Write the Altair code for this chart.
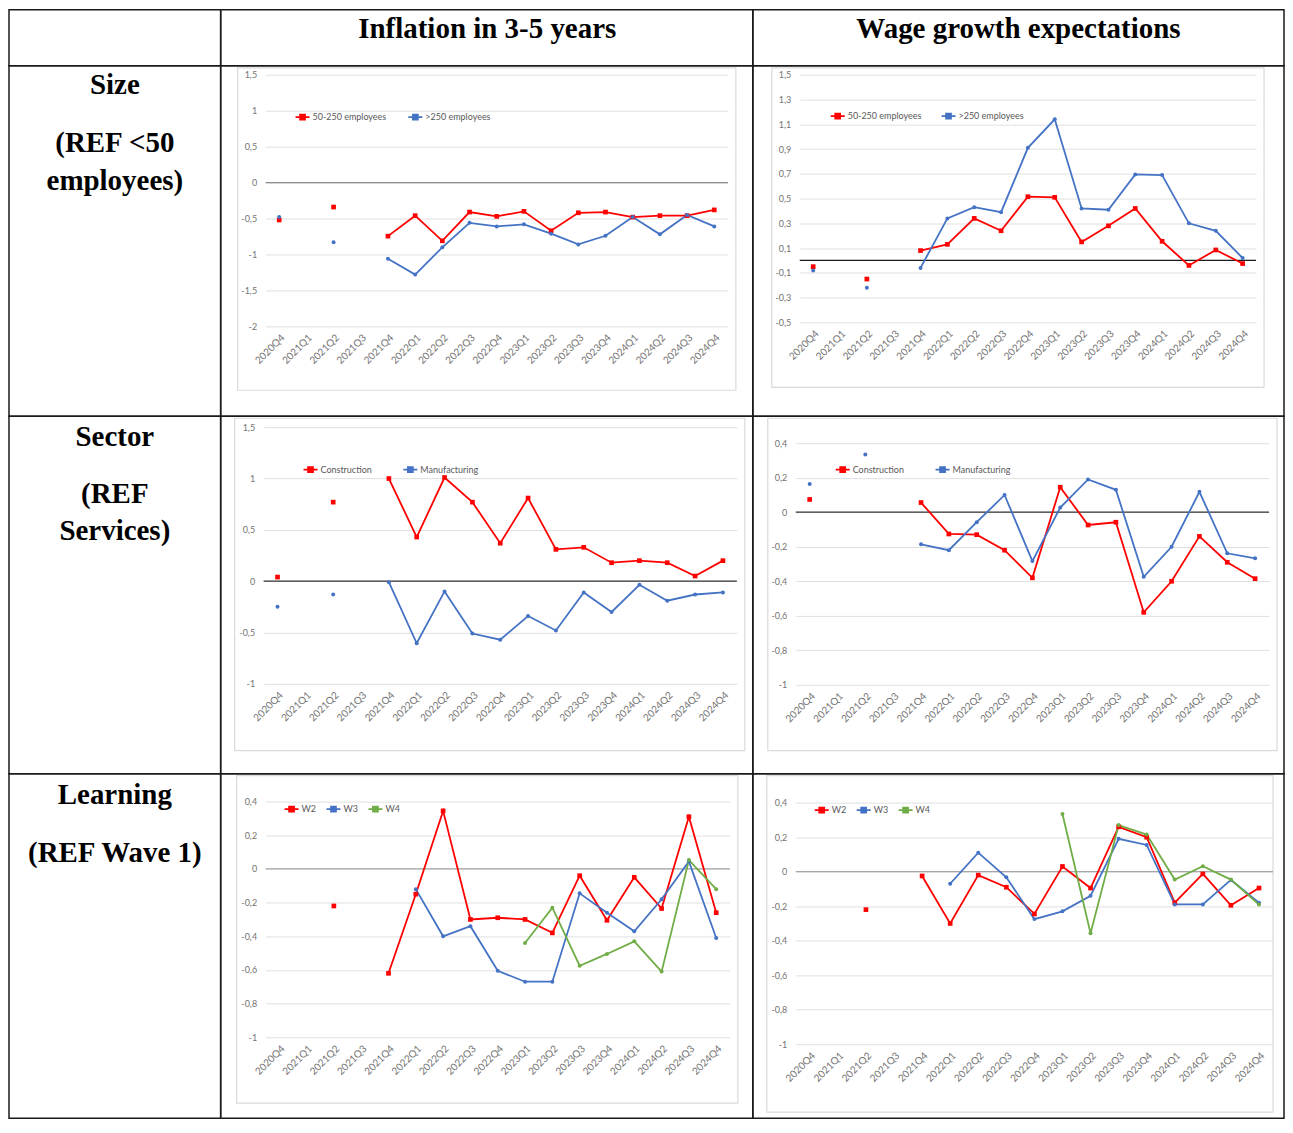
import altair as alt
import pandas as pd

N = None
quarters = ["2020Q4", "2021Q1", "2021Q2", "2021Q3", "2021Q4", "2022Q1", "2022Q2", "2022Q3",
            "2022Q4", "2023Q1", "2023Q2", "2023Q3", "2023Q4", "2024Q1", "2024Q2", "2024Q3", "2024Q4"]

col_titles = ["Inflation in 3-5 years", "Wage growth expectations"]
row_labels = [["Size", "(REF <50", "employees)"],
              ["Sector", "(REF", "Services)"],
              ["Learning", "(REF Wave 1)"]]

# Size
size_names = ["50-250 employees", ">250 employees"]
infl_size_mid = [-0.52, N, -0.34, N, -0.745, -0.46, -0.81, -0.41, -0.47, -0.40, -0.67, -0.42, -0.41, -0.48, -0.46, -0.46, -0.38]
infl_size_large = [-0.48, N, -0.83, N, -1.06, -1.28, -0.90, -0.56, -0.61, -0.58, -0.71, -0.86, -0.74, -0.48, -0.72, -0.45, -0.61]
wage_size_mid = [-0.05, N, -0.15, N, 0.08, 0.13, 0.34, 0.24, 0.515, 0.51, 0.15, 0.28, 0.42, 0.155, -0.04, 0.085, -0.025]
wage_size_large = [-0.08, N, -0.22, N, -0.06, 0.34, 0.43, 0.39, 0.91, 1.14, 0.42, 0.41, 0.695, 0.69, 0.30, 0.24, 0.02]

# Sector
sector_names = ["Construction", "Manufacturing"]
infl_constr = [0.04, N, 0.77, N, 1.00, 0.43, 1.01, 0.77, 0.37, 0.81, 0.31, 0.33, 0.18, 0.20, 0.18, 0.05, 0.20]
infl_manuf = [-0.25, N, -0.13, N, -0.01, -0.605, -0.10, -0.51, -0.57, -0.34, -0.48, -0.11, -0.30, -0.035, -0.19, -0.13, -0.11]
wage_constr = [0.074, N, N, N, 0.056, -0.126, -0.13, -0.22, -0.38, 0.145, -0.074, -0.058, -0.58, -0.40, -0.14, -0.29, -0.385]
wage_manuf = [0.163, N, 0.335, N, -0.186, -0.22, -0.058, 0.10, -0.283, 0.027, 0.19, 0.13, -0.374, -0.20, 0.118, -0.238, -0.267]

# Learning
wave_names = ["W2", "W3", "W4"]
infl_w2 = [N, N, -0.22, N, -0.62, -0.15, 0.345, -0.30, -0.29, -0.30, -0.38, -0.04, -0.305, -0.05, -0.235, 0.31, -0.26]
infl_w3 = [N, N, N, N, N, -0.12, -0.40, -0.34, -0.605, -0.67, -0.67, -0.145, -0.26, -0.37, -0.18, 0.045, -0.41]
infl_w4 = [N, N, N, N, N, N, N, N, N, -0.44, -0.23, -0.575, -0.505, -0.43, -0.61, 0.053, -0.12]
wage_w2 = [N, N, -0.22, N, -0.025, -0.30, -0.02, -0.09, -0.245, 0.03, -0.095, 0.26, 0.20, -0.18, -0.013, -0.195, -0.095]
wage_w3 = [N, N, N, N, N, -0.07, 0.11, -0.033, -0.275, -0.23, -0.14, 0.19, 0.155, -0.19, -0.19, -0.048, -0.18]
wage_w4 = [N, N, N, N, N, N, N, N, N, 0.334, -0.357, 0.27, 0.215, -0.046, 0.031, -0.046, -0.19]

RED, BLUE, GREEN = "#ff0000", "#4472c4", "#70ad47"
ticks_a = [-2, -1.5, -1, -0.5, 0, 0.5, 1, 1.5]
ticks_b = [-0.5, -0.3, -0.1, 0.1, 0.3, 0.5, 0.7, 0.9, 1.1, 1.3, 1.5]
ticks_c = [-1, -0.5, 0, 0.5, 1, 1.5]
ticks_d = [-1, -0.8, -0.6, -0.4, -0.2, 0, 0.2, 0.4]

LEG_SYMBOL = "M-1,0H1M-0.35,-0.35H0.35V0.35H-0.35Z"
ONE = alt.Data(values=[{}])


def panel(names, series, colors, ydom, yticks, w, h, xr, yr, box, leg, colpad, zero_color):
    rows = []
    for name, vals in zip(names, series):
        for q, v in zip(quarters, vals):
            rows.append({"q": q, "v": v, "s": name})
    df = pd.DataFrame(rows)

    xs = alt.Scale(type="point", domain=quarters, range=[xr[0], xr[1]], padding=0.5)
    ys = alt.Scale(domain=ydom, range=[yr[0], yr[1]], nice=False, zero=False)
    cs = alt.Scale(domain=names, range=colors)

    x_axis = alt.Axis(title=None, labelAngle=-45, ticks=False, domain=False, grid=False,
                      offset=yr[0] - h, labelPadding=6, labelFontSize=10, labelColor="#737373",
                      labelFont="Lato", labelOverlap=False)
    y_axis = alt.Axis(title=None, values=yticks, ticks=False, domain=False, grid=True,
                      gridColor="#e0e0e0", gridWidth=1, offset=-xr[0], labelPadding=9,
                      labelFontSize=9, labelColor="#737373", labelFont="Lato",
                      labelExpr="replace(toString(datum.value), '.', ',')")
    legend = alt.Legend(orient="none", legendX=leg[0], legendY=leg[1], direction="horizontal",
                        title=None, symbolType=LEG_SYMBOL, symbolSize=196, symbolStrokeWidth=1.8,
                        labelFont="Lato", labelFontSize=9, labelColor="#595959",
                        columnPadding=colpad, labelOffset=2, padding=0)

    frame = alt.Chart(ONE).mark_rect(fillOpacity=0, stroke="#dadada", strokeWidth=1.2).encode(
        x=alt.value(box[0]), x2=alt.value(box[1]), y=alt.value(box[2]), y2=alt.value(box[3]))
    line = alt.Chart(df).mark_line(strokeWidth=1.8).encode(
        x=alt.X("q:N", scale=xs, axis=x_axis),
        y=alt.Y("v:Q", scale=ys, axis=y_axis),
        color=alt.Color("s:N", scale=cs, legend=legend))
    zero = alt.Chart(ONE).mark_rule(color=zero_color, strokeWidth=1.3).encode(
        y=alt.YDatum(0, scale=ys, axis=y_axis), x=alt.value(xr[0]), x2=alt.value(xr[1]))
    sq = alt.Chart(df).transform_filter(alt.datum.s == names[0]).mark_square(size=22, opacity=1).encode(
        x=alt.X("q:N", scale=xs, axis=x_axis),
        y=alt.Y("v:Q", scale=ys, axis=y_axis),
        fill=alt.Fill("s:N", scale=cs, legend=None))
    circ = alt.Chart(df).transform_filter(alt.datum.s != names[0]).mark_circle(size=16, opacity=1).encode(
        x=alt.X("q:N", scale=xs, axis=x_axis),
        y=alt.Y("v:Q", scale=ys, axis=y_axis),
        fill=alt.Fill("s:N", scale=cs, legend=None))
    return alt.layer(frame, zero, line, sq, circ).properties(width=w, height=h)


def text_cell(w, h, items):
    layers = []
    for t, x, y in items:
        layers.append(alt.Chart(ONE).mark_text(font="Liberation Serif", fontWeight="bold", fontSize=29,
                                               align="center", baseline="middle", color="#000000").encode(
            x=alt.value(x), y=alt.value(y), text=alt.value(t)))
    return alt.layer(*layers).properties(width=w, height=h)


W0, W1, W2c = 212, 533, 532
H0, H1, H2, H3 = 56, 351, 358, 345

cells = [
    text_cell(W0, H0, [("", 106, 18)]),
    text_cell(W1, H0, [(col_titles[0], 267, 19)]),
    text_cell(W2c, H0, [(col_titles[1], 266, 19)]),

    text_cell(W0, H1, [(row_labels[0][0], 106, 19), (row_labels[0][1], 106, 77), (row_labels[0][2], 106, 115)]),
    panel(size_names, [infl_size_mid, infl_size_large], [RED, BLUE],
          [-2, 1.5], ticks_a, W1, H1, (45, 508), (261, 9), (17, 516, 2, 325), (74, 43), 18, "#8c8c8c"),
    panel(size_names, [wage_size_mid, wage_size_large], [RED, BLUE],
          [-0.5, 1.5], ticks_b, W2c, H1, (47, 504), (257, 9), (19, 512, 2, 322), (77, 42), 16, "#1a1a1a"),

    text_cell(W0, H2, [(row_labels[1][0], 106, 21), (row_labels[1][1], 106, 78), (row_labels[1][2], 106, 115)]),
    panel(sector_names, [infl_constr, infl_manuf], [RED, BLUE],
          [-1, 1.5], ticks_c, W1, H2, (43, 517), (268, 11), (14, 525, 2, 335), (82, 45), 27, "#333333"),
    panel(sector_names, [wage_constr, wage_manuf], [RED, BLUE],
          [-1, 0.4], ticks_d, W2c, H2, (43, 517), (269, 27), (15, 525, 2, 335), (82, 45), 27, "#333333"),

    text_cell(W0, H3, [(row_labels[2][0], 106, 21), (row_labels[2][1], 106, 79)]),
    panel(wave_names, [infl_w2, infl_w3, infl_w4], [RED, BLUE, GREEN],
          [-1, 0.4], ticks_d, W1, H3, (45, 510), (264, 28), (16, 518, 2, 330), (63, 27), 6, "#a6a6a6"),
    panel(wave_names, [wage_w2, wage_w3, wage_w4], [RED, BLUE, GREEN],
          [-1, 0.4], ticks_d, W2c, H3, (43, 521), (271, 29), (14, 521, 2, 339), (61, 28), 6, "#a6a6a6"),
]

chart = alt.concat(*cells, columns=3, spacing=0, bounds="flush").resolve_scale(
    color="independent", fill="independent").properties(
    padding=0, background="white").configure_view(stroke="#1a1a1a", strokeWidth=1.5)

chart.save("out.html", embed_options={"renderer": "svg", "actions": False})
